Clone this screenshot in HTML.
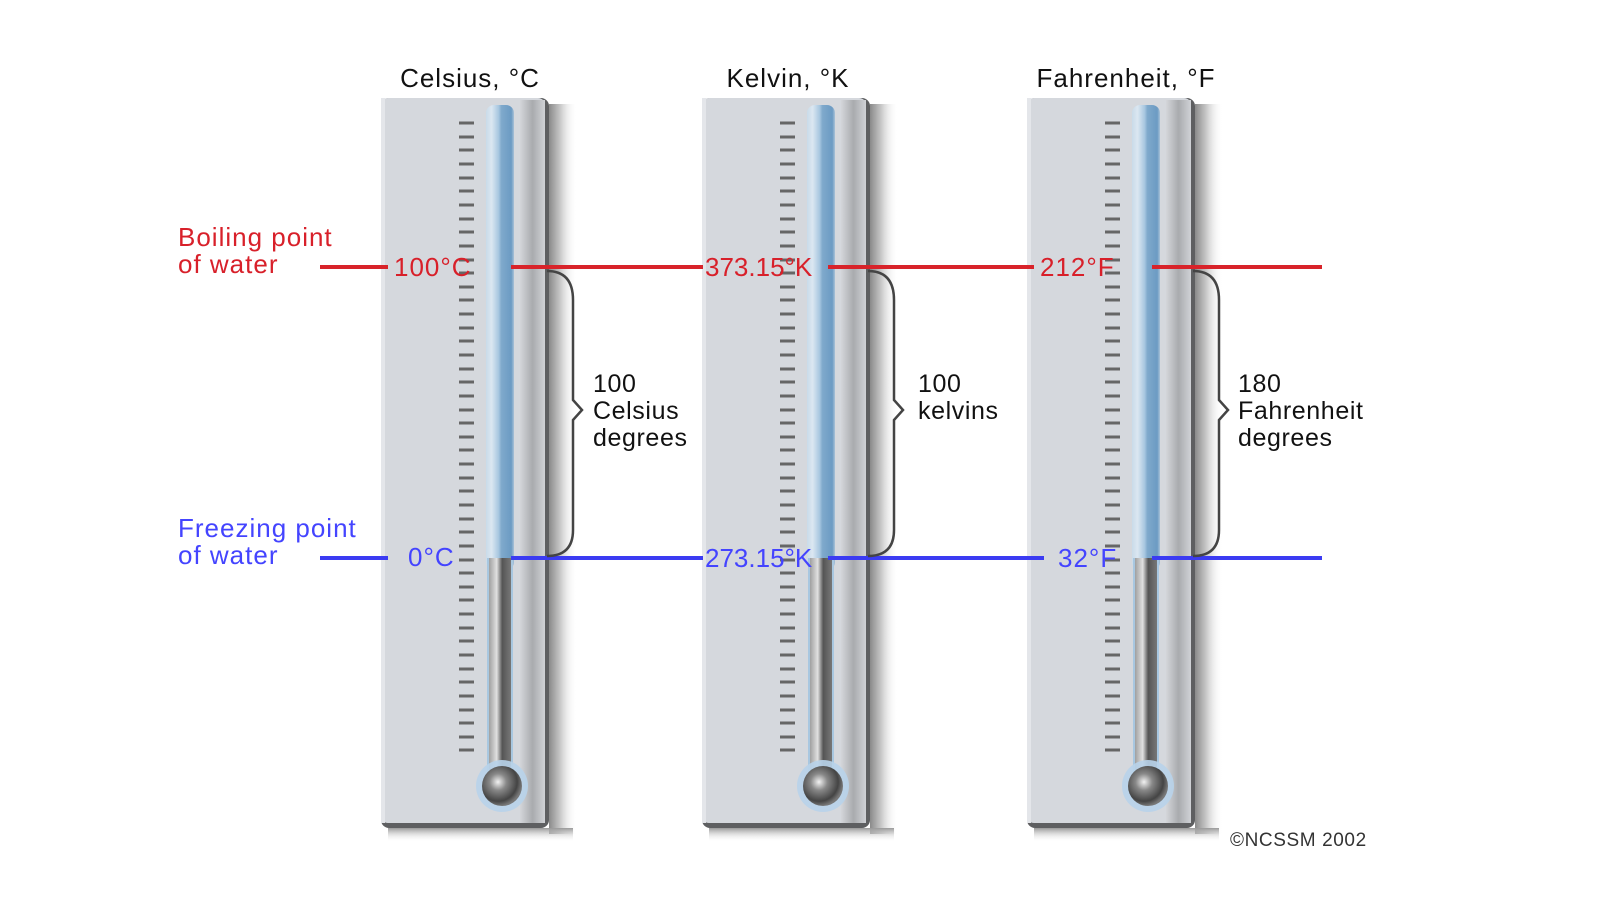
<!DOCTYPE html>
<html><head><meta charset="utf-8"><style>
html,body{margin:0;padding:0;background:#fff;}
svg{display:block;}
text{font-family:"Liberation Sans",Arial,sans-serif;}
</style></head><body>
<svg width="1600" height="900" viewBox="0 0 1600 900" xmlns="http://www.w3.org/2000/svg">
<defs>
<linearGradient id="sh" x1="0" x2="1" y1="0" y2="0">
<stop offset="0" stop-color="#8a8a8a"/><stop offset="0.4" stop-color="#c8c8c8"/><stop offset="1" stop-color="#fff" stop-opacity="0"/>
</linearGradient>
<linearGradient id="shb" x1="0" x2="0" y1="0" y2="1">
<stop offset="0" stop-color="#999"/><stop offset="1" stop-color="#fff" stop-opacity="0"/>
</linearGradient>
<linearGradient id="tube" x1="0" x2="1">
<stop offset="0" stop-color="#c9dbe9"/><stop offset="0.2" stop-color="#dbe7f1"/><stop offset="0.45" stop-color="#a8c7e0"/><stop offset="0.55" stop-color="#7fa9cc"/><stop offset="0.9" stop-color="#6c9bc3"/><stop offset="1" stop-color="#a9c2d8"/>
</linearGradient>
<linearGradient id="merc" x1="0" x2="1">
<stop offset="0" stop-color="#a0a0a0"/><stop offset="0.35" stop-color="#e0e0e0"/><stop offset="0.6" stop-color="#555"/><stop offset="1" stop-color="#777"/>
</linearGradient>
<linearGradient id="rside" x1="0" x2="1">
<stop offset="0" stop-color="#d4d6da"/><stop offset="0.5" stop-color="#a9abae"/><stop offset="1" stop-color="#d0d2d6"/>
</linearGradient>
<radialGradient id="bulb" cx="0.4" cy="0.4" r="0.6">
<stop offset="0" stop-color="#f2f2f2"/><stop offset="0.35" stop-color="#888"/><stop offset="0.8" stop-color="#444"/><stop offset="1" stop-color="#777"/>
</radialGradient>
<g id="th">
<rect x="549" y="104" width="28" height="730" fill="url(#sh)"/>
<rect x="388" y="828" width="185" height="14" fill="url(#shb)"/>
<rect x="381" y="98" width="168" height="730" rx="8" fill="#5e5f61"/>
<rect x="381" y="98" width="164" height="725" rx="7" fill="#d5d8dd"/>
<rect x="381" y="98" width="4" height="725" fill="#e4e6ea"/>
<rect x="520" y="100" width="25" height="723" fill="url(#rside)"/>
<rect x="486" y="105" width="28" height="465" rx="8" fill="url(#tube)"/>
<rect x="487" y="558" width="26" height="220" fill="#a8c7e0"/>
<rect x="489" y="558" width="22" height="220" fill="url(#merc)"/>
<circle cx="502" cy="786" r="26" fill="#b8d3ea" opacity="0.9"/>
<circle cx="502" cy="786" r="20" fill="url(#bulb)"/>
<g stroke="#666" stroke-width="3">
<path d="M459 123h15M459 137h15M459 150h15M459 164h15M459 178h15M459 191h15M459 205h15M459 219h15M459 232h15M459 246h15M459 260h15M459 273h15M459 287h15M459 300h15M459 314h15M459 328h15M459 341h15M459 355h15M459 369h15M459 382h15M459 396h15M459 410h15M459 423h15M459 437h15M459 450h15M459 464h15M459 478h15M459 491h15M459 505h15M459 519h15M459 532h15M459 546h15M459 560h15M459 573h15M459 587h15M459 600h15M459 614h15M459 628h15M459 641h15M459 655h15M459 669h15M459 682h15M459 696h15M459 710h15M459 723h15M459 737h15M459 750h15"/>
</g>
</g>
</defs>
<use href="#th"/>
<use href="#th" transform="translate(321,0)"/>
<use href="#th" transform="translate(646,0)"/>

<g font-size="26" fill="#111" letter-spacing="1">
<text x="470" y="87" text-anchor="middle">Celsius, °C</text>
<text x="788" y="87" text-anchor="middle">Kelvin, °K</text>
<text x="1126" y="87" text-anchor="middle">Fahrenheit, °F</text>
</g>

<g stroke="#d8232a" stroke-width="4">
<line x1="320" y1="267" x2="388" y2="267"/>
<line x1="511" y1="267" x2="703" y2="267"/>
<line x1="828" y1="267" x2="1034" y2="267"/>
<line x1="1152" y1="267" x2="1322" y2="267"/>
</g>
<g stroke="#3b3bf2" stroke-width="4">
<line x1="320" y1="558" x2="388" y2="558"/>
<line x1="511" y1="558" x2="703" y2="558"/>
<line x1="828" y1="558" x2="1044" y2="558"/>
<line x1="1152" y1="558" x2="1322" y2="558"/>
</g>

<g font-size="26" fill="#d8202a" letter-spacing="1">
<text x="178" y="246">Boiling point</text>
<text x="178" y="273">of water</text>
<text x="394" y="276">100°C</text>
<text x="705" y="276" letter-spacing="0">373.15°K</text>
<text x="1040" y="276">212°F</text>
</g>
<g font-size="26" fill="#4444ff" letter-spacing="1">
<text x="178" y="537">Freezing point</text>
<text x="178" y="564">of water</text>
<text x="408" y="566">0°C</text>
<text x="705" y="567" letter-spacing="0">273.15°K</text>
<text x="1058" y="567">32°F</text>
</g>

<g fill="none" stroke="#444" stroke-width="2.5">
<path d="M547 271 Q573 271 573 300 V400 L582 410 L573 420 V530 Q573 556 547 556"/>
<path d="M868 271 Q894 271 894 300 V400 L903 410 L894 420 V530 Q894 556 868 556"/>
<path d="M1193 271 Q1219 271 1219 300 V400 L1228 410 L1219 420 V530 Q1219 556 1193 556"/>
</g>
<g font-size="25" fill="#111" letter-spacing="0.6">
<text x="593" y="392">100</text><text x="593" y="419">Celsius</text><text x="593" y="446">degrees</text>
<text x="918" y="392">100</text><text x="918" y="419">kelvins</text>
<text x="1238" y="392">180</text><text x="1238" y="419">Fahrenheit</text><text x="1238" y="446">degrees</text>
</g>
<text x="1230" y="846" font-size="19" fill="#333" letter-spacing="0.6">©NCSSM 2002</text>
</svg>
</body></html>
